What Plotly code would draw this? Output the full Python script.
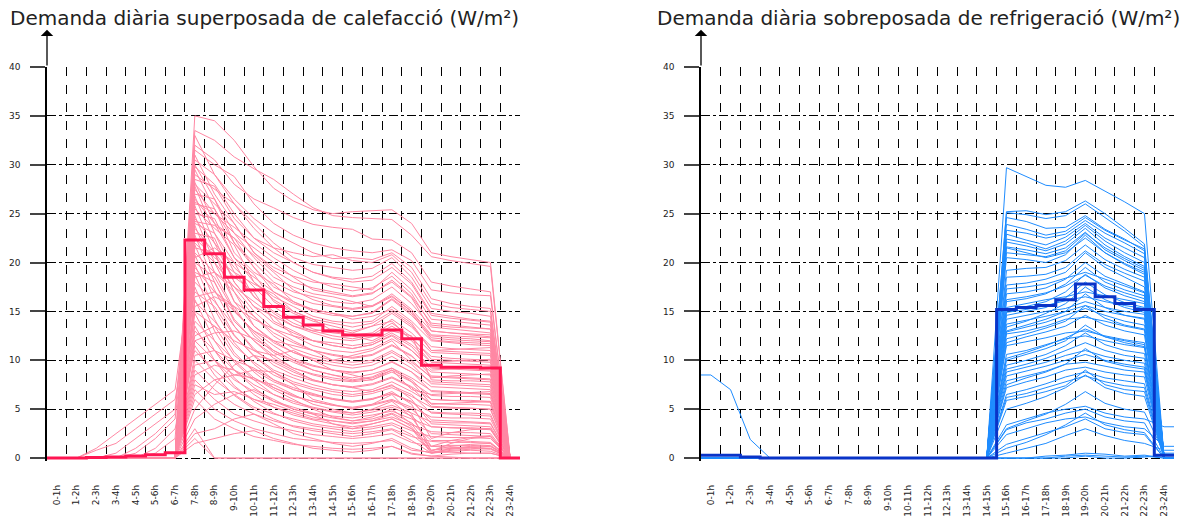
import plotly.graph_objects as go

HOURS = ["0-1h", "1-2h", "2-3h", "3-4h", "4-5h", "5-6h", "6-7h", "7-8h", "8-9h", "9-10h",
         "10-11h", "11-12h", "12-13h", "13-14h", "14-15h", "15-16h", "16-17h", "17-18h",
         "18-19h", "19-20h", "20-21h", "21-22h", "22-23h", "23-24h"]
Y_TICKS = [0, 5, 10, 15, 20, 25, 30, 35, 40]

TITLE_HEAT = "Demanda diària superposada de calefacció (W/m²)"
TITLE_COOL = "Demanda diària sobreposada de refrigeració (W/m²)"

# mean (thick step) profiles
HEAT_MEAN = [0, 0, 0.05, 0.1, 0.2, 0.35, 0.55, 22.3, 20.9, 18.5, 17.2, 15.5, 14.4, 13.6, 13.0,
             12.6, 12.6, 13.1, 12.2, 9.5, 9.3, 9.3, 9.2, 0]
COOL_MEAN = [0.3, 0.3, 0.1, 0, 0, 0, 0, 0, 0, 0, 0, 0, 0, 0, 0,
             15.2, 15.4, 15.6, 16.2, 17.8, 16.5, 15.8, 15.2, 0.3]

# individual daily heating profiles
HEAT_DAYS = [
    [0, 0, 0, 0, 0, 0, 0, 35.0, 34.5, 32.5, 29.8, 27.6, 26.3, 25.4, 25.0, 25.2, 25.3, 25.4, 24.0, 21.0, 20.6, 20.3, 20.0, 0],
    [0, 0, 0, 0, 0, 0, 0, 33.5, 32.5, 30.8, 29.6, 28.5, 27.0, 25.6, 24.8, 24.6, 24.5, 24.4, 22.8, 20.6, 20.2, 19.9, 19.6, 0],
    [0, 0, 0, 0, 0, 0, 0, 32.0, 30.5, 28.0, 26.5, 25.6, 24.6, 23.9, 23.6, 23.4, 22.4, 22.3, 21.0, 18.0, 17.6, 17.3, 17.0, 0],
    [0, 0, 0, 0, 0, 0, 0, 31.5, 30.0, 28.8, 26.0, 24.0, 22.8, 22.0, 21.5, 21.2, 21.0, 21.3, 20.2, 17.2, 16.9, 16.7, 16.6, 0],
    [0, 0, 0, 0, 0, 0, 0, 30.5, 29.0, 26.5, 24.5, 23.0, 22.0, 21.0, 20.4, 20.5, 20.3, 21.0, 19.5, 16.3, 15.8, 15.5, 15.3, 0],
    [0, 0, 0, 0, 0, 0, 0, 29.8, 28.0, 25.0, 22.5, 21.5, 21.0, 20.6, 20.8, 20.2, 20.0, 20.8, 19.0, 15.8, 15.4, 15.2, 15.0, 0],
    [0, 0, 0, 0, 0, 0, 0, 29.0, 27.5, 26.0, 24.0, 22.0, 20.5, 19.8, 19.5, 19.2, 19.4, 20.5, 18.5, 15.3, 15.0, 14.8, 14.5, 0],
    [0, 0, 0, 0, 0, 0, 0, 28.5, 27.8, 24.5, 22.5, 21.0, 20.0, 19.0, 18.5, 18.3, 18.6, 19.9, 18.0, 14.8, 14.5, 14.2, 14.0, 0],
    [0, 0, 0, 0, 0, 0.5, 2.0, 28.0, 26.0, 24.0, 21.0, 19.5, 18.6, 18.0, 17.8, 17.5, 17.2, 19.0, 17.2, 14.2, 14.0, 13.8, 13.6, 0],
    [0, 0, 0, 0, 0, 0, 0, 27.5, 25.0, 23.0, 21.5, 20.0, 18.5, 17.2, 16.8, 16.5, 16.8, 18.2, 16.5, 13.8, 13.6, 13.4, 13.2, 0],
    [0, 0, 0, 0, 0, 0, 0, 27.0, 26.5, 22.0, 20.0, 18.0, 17.0, 16.5, 16.0, 15.8, 16.2, 17.5, 15.8, 13.4, 13.2, 13.0, 12.8, 0],
    [0, 0, 0, 0, 0, 0, 0, 26.5, 24.0, 22.5, 19.5, 17.5, 16.5, 15.8, 15.5, 15.2, 15.5, 16.8, 15.2, 13.0, 12.8, 12.6, 12.4, 0],
    [0, 0, 0, 0, 0, 0, 0, 26.0, 25.5, 21.0, 19.0, 17.8, 16.0, 15.0, 14.6, 14.5, 14.8, 16.2, 14.6, 12.5, 12.3, 12.2, 12.0, 0],
    [0, 0, 0, 0, 1.0, 2.5, 4.5, 25.5, 23.5, 21.8, 18.0, 16.5, 15.5, 14.5, 14.0, 13.8, 14.0, 15.5, 14.0, 12.0, 11.8, 11.6, 11.5, 0],
    [0, 0, 0, 0, 0, 0, 0, 25.0, 24.5, 20.5, 18.8, 16.0, 14.8, 14.0, 13.5, 13.0, 13.5, 14.8, 13.4, 11.4, 11.2, 11.1, 11.0, 0],
    [0, 0, 0, 0, 0, 0, 0, 24.5, 22.0, 19.5, 17.5, 15.5, 14.2, 13.2, 12.8, 12.6, 12.8, 14.2, 12.8, 10.8, 10.7, 10.6, 10.5, 0],
    [0, 0, 0, 0, 0, 0, 0, 24.0, 23.0, 20.0, 16.5, 14.8, 13.5, 12.8, 12.2, 12.0, 12.4, 13.5, 12.2, 10.4, 10.2, 10.1, 10.0, 0],
    [0, 0, 0, 0, 0, 0, 0, 23.5, 21.0, 18.5, 17.0, 14.0, 13.0, 12.0, 11.8, 11.5, 11.8, 12.8, 11.6, 9.8, 9.7, 9.6, 9.5, 0],
    [0, 0, 0, 0, 0, 0, 0, 23.0, 22.5, 18.0, 15.5, 14.5, 12.5, 11.5, 11.0, 10.8, 11.2, 12.2, 11.0, 9.3, 9.2, 9.1, 9.0, 0],
    [0, 0, 1.0, 2.5, 4.0, 5.5, 7.0, 22.0, 20.0, 17.5, 15.0, 13.2, 12.0, 11.0, 10.5, 10.2, 10.5, 11.5, 10.4, 8.8, 8.7, 8.6, 8.5, 0],
    [0, 0, 0, 0, 0, 0, 0, 21.5, 21.0, 16.0, 14.5, 12.5, 11.2, 10.5, 10.0, 9.8, 10.0, 11.0, 9.8, 8.3, 8.2, 8.1, 8.0, 0],
    [0, 0, 0, 0, 0, 0, 0, 21.0, 19.0, 17.0, 13.5, 12.0, 10.8, 10.0, 9.5, 9.2, 9.5, 10.4, 9.2, 7.8, 7.7, 7.6, 7.5, 0],
    [0, 0, 0, 0, 0, 0, 0, 20.0, 18.5, 15.0, 13.0, 11.5, 10.2, 9.5, 9.0, 8.8, 9.0, 9.8, 8.8, 7.3, 7.2, 7.1, 7.0, 0],
    [0, 0, 0, 0, 0, 0, 0, 19.5, 17.0, 15.5, 12.5, 10.8, 9.8, 9.0, 8.5, 8.2, 8.6, 9.2, 8.2, 6.9, 6.8, 6.7, 6.6, 0],
    [0, 0, 0, 0, 0, 0, 0, 19.0, 18.0, 14.0, 12.0, 10.5, 9.2, 8.5, 8.0, 7.8, 8.0, 8.8, 7.8, 6.4, 6.3, 6.3, 6.2, 0],
    [0, 0, 0, 0, 0, 0, 0, 18.0, 16.0, 13.5, 11.0, 9.8, 8.8, 8.0, 7.5, 7.3, 7.6, 8.3, 7.3, 6.0, 5.9, 5.9, 5.8, 0],
    [0, 0, 0.8, 1.5, 3.0, 4.5, 6.0, 17.0, 15.5, 12.5, 10.5, 9.0, 8.2, 7.5, 7.0, 6.8, 7.0, 7.8, 6.8, 5.6, 5.5, 5.5, 5.4, 0],
    [0, 0, 0, 0, 0, 0, 0, 16.0, 14.0, 11.5, 9.8, 8.5, 7.6, 7.0, 6.5, 6.3, 6.6, 7.2, 6.3, 5.2, 5.1, 5.1, 5.0, 0],
    [0, 0, 0, 0, 0, 0, 0, 15.0, 13.5, 10.5, 9.0, 7.8, 7.0, 6.4, 6.0, 5.8, 6.0, 6.6, 5.7, 4.7, 4.6, 4.6, 4.5, 0],
    [0, 0, 0, 0, 0, 0, 0, 14.0, 12.0, 10.0, 8.2, 7.2, 6.4, 5.8, 5.4, 5.2, 5.5, 6.0, 5.2, 4.2, 4.1, 4.1, 4.0, 0],
    [0, 0, 0, 0, 0, 0, 0, 13.0, 11.0, 9.0, 7.5, 6.5, 5.8, 5.2, 4.8, 4.6, 4.9, 5.4, 4.6, 3.7, 3.6, 3.6, 3.5, 0],
    [0, 0, 0, 0, 0, 0, 0, 12.0, 10.0, 8.0, 6.8, 5.8, 5.2, 4.6, 4.3, 4.1, 4.4, 4.8, 4.0, 3.2, 3.1, 3.1, 3.0, 0],
    [0, 0, 0, 0, 0, 1.0, 3.0, 11.0, 9.0, 7.2, 6.0, 5.2, 4.6, 4.0, 3.8, 3.6, 3.8, 4.2, 3.4, 2.7, 2.6, 2.6, 2.5, 0],
    [0, 0, 0, 0, 0, 0, 0, 10.0, 8.0, 6.5, 5.2, 4.5, 4.0, 3.5, 3.2, 3.0, 3.2, 3.6, 2.8, 2.2, 2.1, 2.1, 2.0, 0],
    [0, 0, 0, 0, 0, 0, 0, 9.0, 7.0, 5.5, 4.5, 3.8, 3.3, 3.0, 2.7, 2.5, 2.7, 3.0, 2.2, 1.7, 1.6, 1.6, 1.5, 0],
    [0, 0, 0, 0, 0, 0, 0, 8.0, 6.0, 4.5, 3.8, 3.2, 2.8, 2.4, 2.2, 2.0, 2.2, 2.5, 1.6, 1.2, 1.1, 1.1, 1.0, 0],
    [0, 0, 0, 0, 0, 0, 0, 7.0, 5.0, 3.8, 3.0, 2.5, 2.0, 1.8, 1.6, 1.5, 1.6, 1.8, 0.8, 0.6, 0.6, 0.5, 0.5, 0],
    [0, 0, 0, 0, 0, 0, 0, 6.0, 4.0, 3.0, 2.2, 1.8, 1.4, 1.2, 1.0, 0.9, 1.0, 1.2, 0.4, 0.2, 0.1, 0.0, 0.0, 0],
    [0, 0, 0, 0, 0, 0, 0, 3.0, 0, 0, 0, 0, 0, 0, 0, 0, 0, 0, 0, 0, 0, 0, 0, 0],
    [0, 0, 0, 0, 0, 0, 0, 5.0, 7.5, 9.5, 10.5, 10.0, 9.0, 8.0, 7.5, 7.2, 6.8, 7.5, 6.0, 3.5, 3.4, 3.3, 3.2, 0],
    [0, 0, 0, 0, 0, 0, 0, 12.5, 13.5, 12.0, 11.0, 10.5, 11.0, 10.0, 9.0, 8.5, 8.0, 9.0, 7.0, 6.5, 6.6, 6.7, 6.8, 0],
    [0, 0, 0, 0, 0, 0, 0, 18.5, 19.0, 17.5, 16.0, 14.5, 13.5, 13.0, 13.2, 12.8, 13.5, 14.0, 12.0, 9.8, 9.9, 10.0, 10.1, 0],
    [0, 0, 0, 0, 0, 0, 0, 9.5, 10.0, 8.5, 9.0, 8.8, 7.5, 6.0, 5.5, 5.0, 5.5, 6.5, 4.5, 0.7, 1.5, 2.0, 2.2, 0],
    [0, 0, 0, 0, 0, 0, 0, 4.0, 5.5, 6.5, 7.0, 6.0, 5.0, 4.5, 3.5, 3.0, 3.5, 4.0, 3.0, 0.5, 1.0, 1.2, 1.3, 0],
    [0, 0, 0, 0, 0, 0, 0, 22.5, 20.5, 19.0, 17.8, 16.8, 15.0, 14.2, 13.0, 12.5, 12.0, 13.0, 12.5, 8.0, 7.9, 7.9, 7.8, 0],
    [0, 0, 0, 0, 0, 0, 0, 16.5, 17.0, 15.0, 13.0, 12.0, 11.5, 11.0, 10.0, 10.5, 11.0, 12.0, 10.0, 8.2, 8.4, 8.5, 8.6, 0],
    [0, 0, 0, 0, 0, 0, 0, 30.0, 26.5, 23.0, 20.5, 18.5, 17.5, 16.8, 16.5, 16.0, 15.5, 16.5, 15.0, 12.3, 12.1, 12.0, 11.9, 0],
    [0, 0, 0, 0, 0, 0, 0, 2.5, 3.0, 4.0, 4.5, 3.5, 2.5, 2.0, 1.5, 1.2, 1.5, 2.0, 1.0, 0.5, 0.8, 0.9, 1.0, 0],
    [0, 0, 0, 0, 0, 0, 0, 33.0, 29.0, 26.0, 23.5, 21.5, 20.0, 19.0, 18.4, 18.0, 18.2, 19.5, 17.8, 14.6, 14.3, 14.1, 13.9, 0],
    [0, 0, 0, 0, 0, 0, 0, 31.0, 27.0, 24.0, 21.0, 19.2, 18.0, 17.4, 17.0, 16.6, 16.9, 18.0, 16.4, 13.0, 12.8, 12.7, 12.6, 0],
    [0, 0, 0, 0, 0, 0, 0, 29.5, 25.5, 22.0, 19.5, 17.0, 15.8, 15.2, 14.8, 14.5, 14.9, 16.3, 14.8, 12.1, 11.9, 11.8, 11.7, 0],
    [0, 0, 0, 0, 0, 0, 0, 28.2, 24.0, 20.5, 18.0, 16.2, 15.0, 14.2, 13.8, 13.4, 13.8, 15.0, 13.6, 11.0, 10.9, 10.8, 10.7, 0],
    [0, 0, 0, 0, 0, 0, 0, 27.8, 23.0, 19.0, 16.5, 15.0, 13.8, 13.0, 12.5, 12.2, 12.6, 13.8, 12.4, 10.1, 10.0, 9.9, 9.8, 0],
    [0, 0, 0, 0, 0, 0, 0, 26.8, 22.0, 18.0, 15.5, 13.8, 12.8, 12.0, 11.5, 11.2, 11.6, 12.6, 11.4, 9.2, 9.1, 9.0, 8.9, 0],
    [0, 0, 0, 0.5, 2.0, 3.5, 5.0, 25.8, 21.0, 17.0, 14.5, 12.8, 11.8, 11.0, 10.6, 10.3, 10.6, 11.6, 10.5, 8.4, 8.3, 8.2, 8.1, 0],
    [0, 0, 0, 0, 0, 0, 0, 24.8, 20.0, 16.0, 13.5, 11.8, 10.8, 10.2, 9.8, 9.5, 9.8, 10.8, 9.6, 7.6, 7.5, 7.4, 7.3, 0],
    [0, 0, 0, 0, 0, 0, 0, 23.8, 19.0, 15.2, 12.8, 11.0, 10.0, 9.4, 9.0, 8.7, 9.0, 9.9, 8.8, 6.8, 6.7, 6.6, 6.5, 0],
    [0, 0, 0, 0, 0, 0, 0, 22.8, 18.0, 14.2, 12.0, 10.2, 9.2, 8.6, 8.2, 7.9, 8.2, 9.0, 8.0, 6.0, 5.9, 5.8, 5.7, 0],
    [0, 0, 0, 0, 0.5, 2.0, 4.0, 21.8, 17.2, 13.5, 11.2, 9.5, 8.5, 7.9, 7.5, 7.2, 7.5, 8.2, 7.2, 5.3, 5.2, 5.1, 5.0, 0],
    [0, 0, 0, 0, 0, 0, 0, 20.8, 16.2, 12.6, 10.4, 8.8, 7.8, 7.2, 6.8, 6.5, 6.8, 7.4, 6.5, 4.6, 4.5, 4.4, 4.3, 0],
    [0, 0, 0, 0, 0, 0, 0, 19.8, 15.2, 11.8, 9.6, 8.0, 7.0, 6.5, 6.1, 5.8, 6.1, 6.6, 5.8, 3.9, 3.8, 3.7, 3.6, 0],
    [0, 0, 0, 0, 0, 0, 0, 18.8, 14.2, 10.8, 8.8, 7.2, 6.3, 5.8, 5.4, 5.1, 5.4, 5.9, 5.0, 3.2, 3.1, 3.0, 2.9, 0],
    [0, 0, 0, 0, 0, 0, 0, 17.5, 13.0, 9.8, 8.0, 6.5, 5.6, 5.1, 4.7, 4.4, 4.7, 5.2, 4.3, 2.5, 2.4, 2.3, 2.2, 0],
    [0, 0, 0, 0, 0, 0, 0, 16.2, 12.0, 9.0, 7.2, 5.8, 5.0, 4.5, 4.1, 3.8, 4.0, 4.6, 3.6, 1.8, 1.8, 1.7, 1.6, 0],
    [0, 0, 0, 0, 0, 0, 0, 14.8, 11.0, 8.2, 6.5, 5.2, 4.4, 3.9, 3.5, 3.2, 3.5, 4.0, 3.0, 1.2, 1.3, 1.3, 1.2, 0],
    [0, 0, 0, 0, 0, 0, 0, 13.5, 10.0, 7.4, 5.8, 4.6, 3.8, 3.3, 3.0, 2.7, 3.0, 3.4, 2.4, 0.8, 1.0, 1.0, 0.9, 0],
    [0, 0, 0, 0, 0, 0, 0, 11.5, 8.5, 6.4, 5.0, 4.0, 3.2, 2.8, 2.5, 2.2, 2.5, 2.9, 1.8, 0.5, 0.7, 0.8, 0.7, 0],
    [0, 0, 0, 0, 0, 0, 0, 10.5, 11.0, 10.0, 9.2, 8.0, 7.2, 6.6, 6.0, 5.7, 6.0, 6.8, 5.5, 2.0, 2.6, 2.9, 3.0, 0],
    [0, 0, 0, 0, 0, 0, 0, 8.5, 9.5, 9.0, 8.0, 7.5, 6.5, 5.5, 5.0, 4.6, 5.0, 5.8, 4.2, 1.2, 1.8, 2.1, 2.3, 0],
    [0, 0, 0, 0, 0, 0, 0, 6.5, 8.0, 8.5, 8.2, 7.0, 6.0, 5.0, 4.2, 3.8, 4.2, 5.0, 3.5, 0.8, 1.2, 1.4, 1.5, 0],
    [0, 0, 0, 0, 0, 0, 0, 20.5, 21.5, 20.0, 18.5, 17.0, 16.0, 15.2, 14.8, 14.2, 14.5, 15.2, 13.8, 11.0, 11.1, 11.2, 11.3, 0],
    [0, 0, 0, 0, 0, 0, 0, 15.5, 16.5, 15.5, 14.2, 13.2, 12.5, 12.0, 11.5, 11.2, 11.6, 12.5, 11.0, 9.0, 9.1, 9.2, 9.3, 0],
    [0, 0, 0, 0, 0, 0, 0, 24.2, 23.8, 22.5, 20.8, 19.0, 17.2, 16.2, 15.6, 15.3, 15.6, 16.6, 15.0, 12.6, 12.5, 12.4, 12.3, 0],
    [0, 0, 0, 0, 0, 0, 0, 26.2, 25.0, 23.6, 22.0, 20.5, 19.2, 18.2, 17.5, 17.1, 17.4, 18.6, 16.8, 13.6, 13.4, 13.3, 13.2, 0],
    [0, 0, 0, 0, 0, 0, 0, 12.0, 12.8, 13.0, 12.2, 11.0, 10.0, 9.0, 8.5, 8.0, 8.3, 9.2, 7.8, 5.5, 5.6, 5.7, 5.8, 0],
    [0, 0, 0, 0, 0, 0, 0, 2.0, 0, 0, 0, 0, 0, 0, 0, 0, 0, 0, 0, 0, 0, 0, 0, 0],
    [0, 0, 0, 0, 0, 0, 0, 1.5, 2.0, 2.5, 2.8, 2.0, 1.5, 1.0, 0.8, 0.6, 0.8, 1.2, 0.5, 0.2, 0.4, 0.5, 0.5, 0],
    [0, 0, 0, 0, 0, 0, 0, 7.5, 6.5, 6.8, 6.0, 5.5, 4.8, 4.2, 3.8, 3.5, 3.8, 4.5, 3.2, 0.6, 0.9, 1.1, 1.2, 0],
]

# individual daily cooling profiles
COOL_DAYS = [
    [0, 0, 0, 0, 0, 0, 0, 0, 0, 0, 0, 0, 0, 0, 0, 29.7, 28.8, 27.9, 27.7, 28.4, 27.3, 26.2, 25.0, 0],
    [0, 0, 0, 0, 0, 0, 0, 0, 0, 0, 0, 0, 0, 0, 0, 25.2, 25.3, 24.9, 25.2, 26.3, 25.0, 23.5, 21.9, 0],
    [0, 0, 0, 0, 0, 0, 0, 0, 0, 0, 0, 0, 0, 0, 0, 25.1, 24.9, 24.5, 24.8, 26.0, 24.6, 23.2, 21.6, 0],
    [0, 0, 0, 0, 0, 0, 0, 0, 0, 0, 0, 0, 0, 0, 0, 24.6, 24.2, 23.5, 23.6, 24.8, 23.4, 22.4, 21.2, 0],
    [0, 0, 0, 0, 0, 0, 0, 0, 0, 0, 0, 0, 0, 0, 0, 23.9, 23.4, 22.8, 23.2, 24.6, 23.3, 22.3, 21.4, 0],
    [0, 0, 0, 0, 0, 0, 0, 0, 0, 0, 0, 0, 0, 0, 0, 23.3, 23.0, 22.5, 22.9, 24.3, 23.0, 22.0, 20.9, 0],
    [0, 0, 0, 0, 0, 0, 0, 0, 0, 0, 0, 0, 0, 0, 0, 22.9, 22.3, 21.8, 22.6, 24.0, 22.5, 21.5, 20.5, 0],
    [0, 0, 0, 0, 0, 0, 0, 0, 0, 0, 0, 0, 0, 0, 0, 22.4, 22.0, 21.4, 22.2, 23.8, 22.2, 21.0, 20.0, 0],
    [0, 0, 0, 0, 0, 0, 0, 0, 0, 0, 0, 0, 0, 0, 0, 22.1, 21.7, 21.2, 21.9, 23.5, 21.8, 20.6, 19.6, 0],
    [0, 0, 0, 0, 0, 0, 0, 0, 0, 0, 0, 0, 0, 0, 0, 21.6, 21.3, 20.9, 21.5, 23.1, 21.3, 20.2, 19.2, 0],
    [0, 0, 0, 0, 0, 0, 0, 0, 0, 0, 0, 0, 0, 0, 0, 21.5, 21.0, 20.5, 21.0, 22.5, 21.0, 19.8, 18.8, 0],
    [0, 0, 0, 0, 0, 0, 0, 0, 0, 0, 0, 0, 0, 0, 0, 21.0, 20.8, 20.6, 21.2, 23.0, 21.5, 20.4, 19.4, 0],
    [0, 0, 0, 0, 0, 0, 0, 0, 0, 0, 0, 0, 0, 0, 0, 20.5, 20.3, 20.0, 20.8, 22.8, 21.0, 19.9, 19.0, 0],
    [0, 0, 0, 0, 0, 0, 0, 0, 0, 0, 0, 0, 0, 0, 0, 19.2, 19.4, 19.5, 20.2, 21.8, 20.3, 19.3, 18.5, 0],
    [0, 0, 0, 0, 0, 0, 0, 0, 0, 0, 0, 0, 0, 0, 0, 18.5, 18.6, 18.8, 19.5, 21.2, 19.8, 18.9, 18.1, 0],
    [0, 0, 0, 0, 0, 0, 0, 0, 0, 0, 0, 0, 0, 0, 0, 17.7, 17.9, 18.3, 19.0, 21.0, 19.5, 18.5, 17.5, 0],
    [0, 0, 0, 0, 0, 0, 0, 0, 0, 0, 0, 0, 0, 0, 0, 17.3, 17.5, 17.8, 18.4, 19.0, 18.3, 17.6, 16.9, 0],
    [0, 0, 0, 0, 0, 0, 0, 0, 0, 0, 0, 0, 0, 0, 0, 16.8, 17.0, 17.4, 18.3, 20.0, 18.6, 17.8, 17.0, 0],
    [0, 0, 0, 0, 0, 0, 0, 0, 0, 0, 0, 0, 0, 0, 0, 16.2, 16.5, 16.9, 17.6, 18.7, 17.6, 16.9, 16.3, 0],
    [0, 0, 0, 0, 0, 0, 0, 0, 0, 0, 0, 0, 0, 0, 0, 16.0, 16.3, 16.8, 17.8, 19.5, 18.0, 17.2, 16.6, 0],
    [0, 0, 0, 0, 0, 0, 0, 0, 0, 0, 0, 0, 0, 0, 0, 15.4, 15.8, 16.2, 16.5, 17.0, 16.6, 16.2, 15.8, 0],
    [0, 0, 0, 0, 0, 0, 0, 0, 0, 0, 0, 0, 0, 0, 0, 15.0, 15.5, 16.0, 17.0, 18.8, 17.4, 16.6, 16.0, 0],
    [0, 0, 0, 0, 0, 0, 0, 0, 0, 0, 0, 0, 0, 0, 0, 14.9, 15.2, 15.6, 16.1, 16.5, 16.0, 15.6, 15.3, 0],
    [0, 0, 0, 0, 0, 0, 0, 0, 0, 0, 0, 0, 0, 0, 0, 14.6, 15.0, 15.4, 16.4, 18.0, 16.7, 15.9, 15.4, 0],
    [0, 0, 0, 0, 0, 0, 0, 0, 0, 0, 0, 0, 0, 0, 0, 14.2, 14.6, 15.0, 15.3, 16.0, 15.4, 15.0, 14.7, 0],
    [0, 0, 0, 0, 0, 0, 0, 0, 0, 0, 0, 0, 0, 0, 0, 13.7, 14.1, 14.5, 15.0, 15.6, 15.0, 14.6, 14.3, 0],
    [0, 0, 0, 0, 0, 0, 0, 0, 0, 0, 0, 0, 0, 0, 0, 13.4, 14.0, 14.8, 15.8, 17.5, 16.2, 15.4, 14.9, 0],
    [0, 0, 0, 0, 0, 0, 0, 0, 0, 0, 0, 0, 0, 0, 0, 13.0, 13.6, 14.2, 15.0, 16.8, 15.4, 14.6, 14.2, 0],
    [0, 0, 0, 0, 0, 0, 0, 0, 0, 0, 0, 0, 0, 0, 0, 12.9, 13.4, 13.9, 14.6, 15.3, 14.6, 14.0, 13.6, 0],
    [0, 0, 0, 0, 0, 0, 0, 0, 0, 0, 0, 0, 0, 0, 0, 12.7, 13.0, 13.5, 14.2, 14.4, 14.0, 13.5, 13.1, 0],
    [0, 0, 0, 0, 0, 0, 0, 0, 0, 0, 0, 0, 0, 0, 0, 12.2, 12.7, 13.3, 14.0, 15.6, 14.3, 13.6, 13.2, 0],
    [0, 0, 0, 0, 0, 0, 0, 0, 0, 0, 0, 0, 0, 0, 0, 11.8, 12.4, 12.9, 13.5, 14.6, 13.6, 13.0, 12.6, 0],
    [0, 0, 0, 0, 0, 0, 0, 0, 0, 0, 0, 0, 0, 0, 0, 11.5, 11.9, 12.3, 12.8, 13.0, 12.5, 12.1, 11.8, 0],
    [0, 0, 0, 0, 0, 0, 0, 0, 0, 0, 0, 0, 0, 0, 0, 10.6, 11.0, 11.6, 12.2, 12.5, 12.0, 11.6, 11.3, 0],
    [8.5, 7.0, 1.9, 0, 0, 0, 0, 0, 0, 0, 0, 0, 0, 0, 0, 10.2, 10.8, 11.5, 12.3, 13.2, 12.4, 12.0, 11.6, 0],
    [0, 0, 0, 0, 0, 0, 0, 0, 0, 0, 0, 0, 0, 0, 0, 10.0, 10.6, 11.2, 12.0, 13.6, 12.4, 11.8, 11.4, 0],
    [0, 0, 0, 0, 0, 0, 0, 0, 0, 0, 0, 0, 0, 0, 0, 9.5, 10.0, 10.6, 11.5, 12.8, 11.6, 11.0, 10.7, 0],
    [0, 0, 0, 0, 0, 0, 0, 0, 0, 0, 0, 0, 0, 0, 0, 9.1, 9.6, 10.2, 11.0, 11.8, 11.0, 10.5, 10.2, 0],
    [0, 0, 0, 0, 0, 0, 0, 0, 0, 0, 0, 0, 0, 0, 0, 8.8, 9.3, 9.8, 10.5, 11.0, 10.4, 10.0, 9.7, 0],
    [0, 0, 0, 0, 0, 0, 0, 0, 0, 0, 0, 0, 0, 0, 0, 8.4, 8.9, 9.4, 10.0, 10.6, 10.0, 9.6, 9.3, 0],
    [0, 0, 0, 0, 0, 0, 0, 0, 0, 0, 0, 0, 0, 0, 0, 7.9, 8.4, 8.9, 9.6, 9.8, 9.4, 9.0, 8.8, 0],
    [0, 0, 0, 0, 0, 0, 0, 0, 0, 0, 0, 0, 0, 0, 0, 7.5, 8.2, 8.8, 9.6, 11.2, 9.9, 9.4, 9.1, 0],
    [0, 0, 0, 0, 0, 0, 0, 0, 0, 0, 0, 0, 0, 0, 0, 7.2, 7.8, 8.3, 9.0, 9.3, 8.8, 8.5, 8.3, 0],
    [0, 0, 0, 0, 0, 0, 0, 0, 0, 0, 0, 0, 0, 0, 0, 6.5, 7.0, 7.6, 8.3, 8.8, 8.2, 7.9, 7.6, 0],
    [0, 0, 0, 0, 0, 0, 0, 0, 0, 0, 0, 0, 0, 0, 0, 6.2, 6.6, 7.2, 7.8, 8.4, 7.8, 7.4, 7.2, 0],
    [0, 0, 0, 0, 0, 0, 0, 0, 0, 0, 0, 0, 0, 0, 0, 5.9, 6.3, 6.8, 7.4, 9.0, 7.5, 7.0, 6.8, 0],
    [0, 0, 0, 0, 0, 0, 0, 0, 0, 0, 0, 0, 0, 0, 0, 5.0, 5.6, 6.3, 7.2, 8.5, 7.2, 6.6, 6.3, 0],
    [0, 0, 0, 0, 0, 0, 0, 0, 0, 0, 0, 0, 0, 0, 0, 3.4, 4.0, 4.6, 5.0, 5.3, 4.6, 4.2, 4.0, 3.2],
    [0, 0, 0, 0, 0, 0, 0, 0, 0, 0, 0, 0, 0, 0, 0, 3.0, 3.8, 4.5, 5.5, 6.8, 5.6, 5.0, 4.7, 0.5],
    [0, 0, 0, 0, 0, 0, 0, 0, 0, 0, 0, 0, 0, 0, 0, 2.9, 3.6, 4.0, 4.6, 5.0, 4.2, 3.8, 3.6, 0],
    [0, 0, 0, 0, 0, 0, 0, 0, 0, 0, 0, 0, 0, 0, 0, 2.4, 3.0, 3.6, 4.0, 4.2, 3.6, 3.2, 3.0, 1.2],
    [0, 0, 0, 0, 0, 0, 0, 0, 0, 0, 0, 0, 0, 0, 0, 1.4, 2.0, 2.6, 3.2, 4.0, 3.0, 2.6, 2.4, 0],
    [0, 0, 0, 0, 0, 0, 0, 0, 0, 0, 0, 0, 0, 0, 0, 1.0, 1.6, 2.4, 3.4, 4.6, 3.4, 2.9, 2.6, 0],
    [0, 0, 0, 0, 0, 0, 0, 0, 0, 0, 0, 0, 0, 0, 0, 0.5, 1.0, 1.5, 2.3, 3.0, 2.3, 1.8, 1.5, 0.8],
    [0, 0, 0, 0, 0, 0, 0, 0, 0, 0, 0, 0, 0, 0, 0, 0, 0, 0.2, 0.3, 0.5, 0.4, 0.2, 0.3, 0],
    [0, 0, 0, 0, 0, 0, 0, 0, 0, 0, 0, 0, 0, 0, 0, 0, 0, 0, 0.2, 0.3, 0.2, 0.1, 0.2, 0],
    [0, 0, 0, 0, 0, 0, 0, 0, 0, 0, 0, 0, 0, 0, 0, 0, 0, 0, 0, 0.2, 0, 0, 0.1, 0.3],
]

HEAT_THIN = "#FF88A4"
HEAT_THICK = "#FF1652"
COOL_THIN = "#1E8CFF"
COOL_THICK = "#0A34C8"

W, H = 1185, 517
FONT = "DejaVu Sans"

n = len(HOURS)
centers = [i + 0.5 for i in range(n)]
line_x = [0] + centers + [n]
step_x = list(range(n)) + [n]

fig = go.Figure()


def add_panel(days, mean, thin, thick, xa, ya):
    for d in days:
        fig.add_trace(go.Scatter(x=line_x, y=[d[0]] + list(d) + [d[-1]], mode="lines",
                                 line=dict(color=thin, width=1), xaxis=xa, yaxis=ya,
                                 hoverinfo="skip", showlegend=False))
    fig.add_trace(go.Scatter(x=step_x, y=list(mean) + [mean[-1]], mode="lines",
                             line=dict(color=thick, width=3, shape="hv"), xaxis=xa, yaxis=ya,
                             hoverinfo="skip", showlegend=False))


add_panel(HEAT_DAYS, HEAT_MEAN, HEAT_THIN, HEAT_THICK, "x", "y")
add_panel(COOL_DAYS, COOL_MEAN, COOL_THIN, COOL_THICK, "x2", "y2")

y_lo = -0.3
top_px, zero_px = 67, 458
unit = (zero_px - top_px) / 40.0
bottom_px = zero_px - y_lo * unit
m_b = H - bottom_px


def xaxis_cfg(l_px, r_px, anchor):
    return dict(domain=[l_px / W, r_px / W], range=[0, n], anchor=anchor,
                tickmode="array", tickvals=centers, ticktext=HOURS, tickangle=-90,
                ticks="", showgrid=False, zeroline=False, showline=False,
                automargin=False,
                ticklabelstandoff=21,
                tickfont=dict(family=FONT, size=9, color="#222"),
                minor=dict(tickmode="array", tickvals=list(range(1, n + 1)), showgrid=True,
                           gridcolor="#000", gridwidth=1, griddash="dash", ticks=""))


def yaxis_cfg(anchor):
    return dict(domain=[0, 1], range=[y_lo, 40], anchor=anchor,
                tickmode="array", tickvals=Y_TICKS, ticktext=[str(v) for v in Y_TICKS],
                ticks="outside", ticklen=15, tickwidth=1.5, tickcolor="#444",
                ticklabelstandoff=8, automargin=False,
                tickfont=dict(family=FONT, size=9, color="#222"),
                showgrid=True, gridcolor="#000", gridwidth=1, griddash="dashdot",
                zeroline=False, showline=True, linecolor="#000", linewidth=1.5)


fig.update_layout(
    width=W, height=H,
    margin=dict(l=0, r=0, t=top_px, b=m_b, pad=0),
    paper_bgcolor="white", plot_bgcolor="white",
    showlegend=False,
    xaxis=xaxis_cfg(47, 520, "y"),
    yaxis=yaxis_cfg("x"),
    xaxis2=xaxis_cfg(701, 1174, "y2"),
    yaxis2=yaxis_cfg("x2"),
)

title_y = 1 + (top_px - 18) / (H - top_px - m_b)
annotations = [
    dict(text=TITLE_HEAT, xref="paper", yref="paper", x=8 / W, y=title_y,
         xanchor="left", yanchor="middle", showarrow=False,
         font=dict(family=FONT, size=20, color="#222")),
    dict(text=TITLE_COOL, xref="paper", yref="paper", x=655 / W, y=title_y,
         xanchor="left", yanchor="middle", showarrow=False,
         font=dict(family=FONT, size=20, color="#222")),
]
for xr, yr in (("x", "y"), ("x2", "y2")):
    annotations.append(dict(x=0, y=43.8, xref=xr, yref=yr, ax=0, ay=40, axref=xr, ayref=yr,
                            showarrow=True, arrowhead=1, arrowsize=1.6, arrowwidth=1.3,
                            arrowcolor="#000", text=""))
fig.update_layout(annotations=annotations)

fig.write_html("out.html")
